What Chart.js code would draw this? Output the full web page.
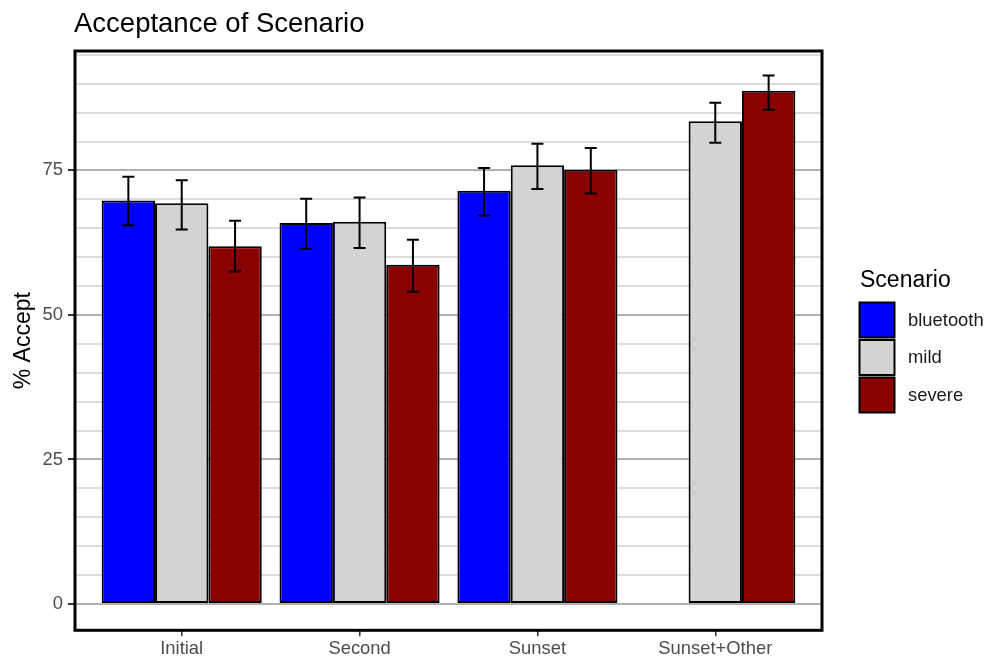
<!DOCTYPE html>
<html>
<head>
<meta charset="utf-8">
<script src="https://cdn.jsdelivr.net/npm/chart.js@4"></script>
<style>
  body { margin: 0; background: #fff; }
  #wrap { width: 1001px; height: 659px; }
</style>
</head>
<body>
<div id="wrap"><canvas id="myChart" width="1001" height="659"></canvas></div>
<script>
const categories = ["Initial", "Second", "Sunset", "Sunset+Other"];
const scenarios = ["bluetooth", "mild", "severe"];
const colors = ["#0000ff", "#d3d3d3", "#8b0000"];

const bluetooth = [69.8, 65.9, 71.5, null];
const bluetoothLo = [65.5, 61.4, 67.2, null];
const bluetoothHi = [73.9, 70.1, 75.4, null];

const mild = [69.3, 66.1, 75.9, 83.5];
const mildLo = [64.8, 61.6, 71.8, 79.8];
const mildHi = [73.3, 70.3, 79.6, 86.7];

const severe = [61.9, 58.7, 75.1, 88.8];
const severeLo = [57.5, 54.0, 71.0, 85.5];
const severeHi = [66.3, 63.0, 78.9, 91.4];

const yTicks = [0, 25, 50, 75];

const values = [bluetooth, mild, severe];
const lows = [bluetoothLo, mildLo, severeLo];
const highs = [bluetoothHi, mildHi, severeHi];

const FONT = "'Liberation Sans', Arial, Helvetica, sans-serif";

document.addEventListener("DOMContentLoaded", chart);

function chart() {
  const ctx = document.getElementById("myChart");

  const datasets = scenarios.map((name, i) => ({
    label: name,
    data: values[i].map((v, j) => ({ x: j + 1, y: v })),
    backgroundColor: colors[i],
    borderColor: "#000000",
    borderWidth: 2,
    borderSkipped: false,
    categoryPercentage: 0.9,
    barPercentage: 1.0,
  }));

  // error bars, panel border, title and legend
  const extras = {
    id: "extras",
    afterDatasetsDraw(c) {
      const g = c.ctx;
      const y = c.scales.y;
      g.save();
      g.strokeStyle = "#000";
      g.lineWidth = 2;
      scenarios.forEach((s, i) => {
        const meta = c.getDatasetMeta(i);
        meta.data.forEach((bar, j) => {
          if (values[i][j] == null) return;
          const x = bar.x;
          const top = y.getPixelForValue(highs[i][j]);
          const bot = y.getPixelForValue(lows[i][j]);
          g.beginPath();
          g.moveTo(x, top);
          g.lineTo(x, bot);
          g.moveTo(x - 6, top);
          g.lineTo(x + 6, top);
          g.moveTo(x - 6, bot);
          g.lineTo(x + 6, bot);
          g.stroke();
        });
      });
      g.restore();
    },
    afterDraw(c) {
      const g = c.ctx;
      const a = c.chartArea;
      g.save();
      g.strokeStyle = "#000";
      g.lineWidth = 3;
      g.strokeRect(a.left, a.top, a.right - a.left, a.bottom - a.top);

      g.fillStyle = "#000";
      g.font = "27.5px " + FONT;
      g.textBaseline = "alphabetic";
      g.fillText("Acceptance of Scenario", 74, 31.5);

      // legend
      g.font = "23px " + FONT;
      g.fillText("Scenario", 860, 286.5);
      scenarios.forEach((s, i) => {
        const top = 302.5 + i * 37.5;
        g.fillStyle = colors[i];
        g.fillRect(859.5, top, 35, 35);
        g.strokeStyle = "#000";
        g.lineWidth = 2;
        g.strokeRect(859.5, top, 35, 35);
        g.fillStyle = "#1a1a1a";
        g.font = "18.4px " + FONT;
        g.textBaseline = "middle";
        g.fillText(s, 908, top + 18);
      });
      g.restore();
    },
  };

  new Chart(ctx, {
    type: "bar",
    data: { datasets },
    plugins: [extras],
    options: {
      responsive: false,
      devicePixelRatio: 1,
      animation: false,
      layout: { padding: { top: 51, right: 179, left: 0, bottom: 0 } },
      plugins: {
        legend: { display: false },
        tooltip: { enabled: false },
      },
      scales: {
        x: {
          type: "linear",
          min: 0.4,
          max: 4.6,
          offset: false,
          grid: {
            offset: false,
            drawOnChartArea: false,
            color: "#333333",
            lineWidth: 1.5,
            tickLength: 6,
          },
          border: { display: false },
          ticks: {
            stepSize: 1,
            includeBounds: false,
            autoSkip: false,
            maxRotation: 0,
            padding: 2,
            color: "#4d4d4d",
            font: { family: FONT, size: 18.4 },
            callback: (v) => categories[v - 1] ?? "",
          },
          afterFit(scale) {
            scale.height = 28.7;
          },
        },
        y: {
          min: -4.56,
          max: 95.66,
          grid: {
            color: (c) => (yTicks.includes(c.tick.value) ? "#b0b0b0" : "#dcdcdc"),
            tickColor: (c) => (yTicks.includes(c.tick.value) ? "#333333" : "rgba(0,0,0,0)"),
            lineWidth: 2,
            tickLength: 7,
          },
          border: { display: false },
          ticks: {
            stepSize: 5,
            includeBounds: false,
            autoSkip: false,
            padding: 5,
            color: "#4d4d4d",
            font: { family: FONT, size: 18.4 },
            callback: (v) => (yTicks.includes(v) ? v : ""),
          },
          title: {
            display: true,
            text: "% Accept",
            color: "#000",
            font: { family: FONT, size: 23 },
            padding: { top: 10, bottom: 0 },
          },
          afterFit(scale) {
            scale.width = 75;
          },
        },
      },
    },
  });
}
</script>
</body>
</html>
